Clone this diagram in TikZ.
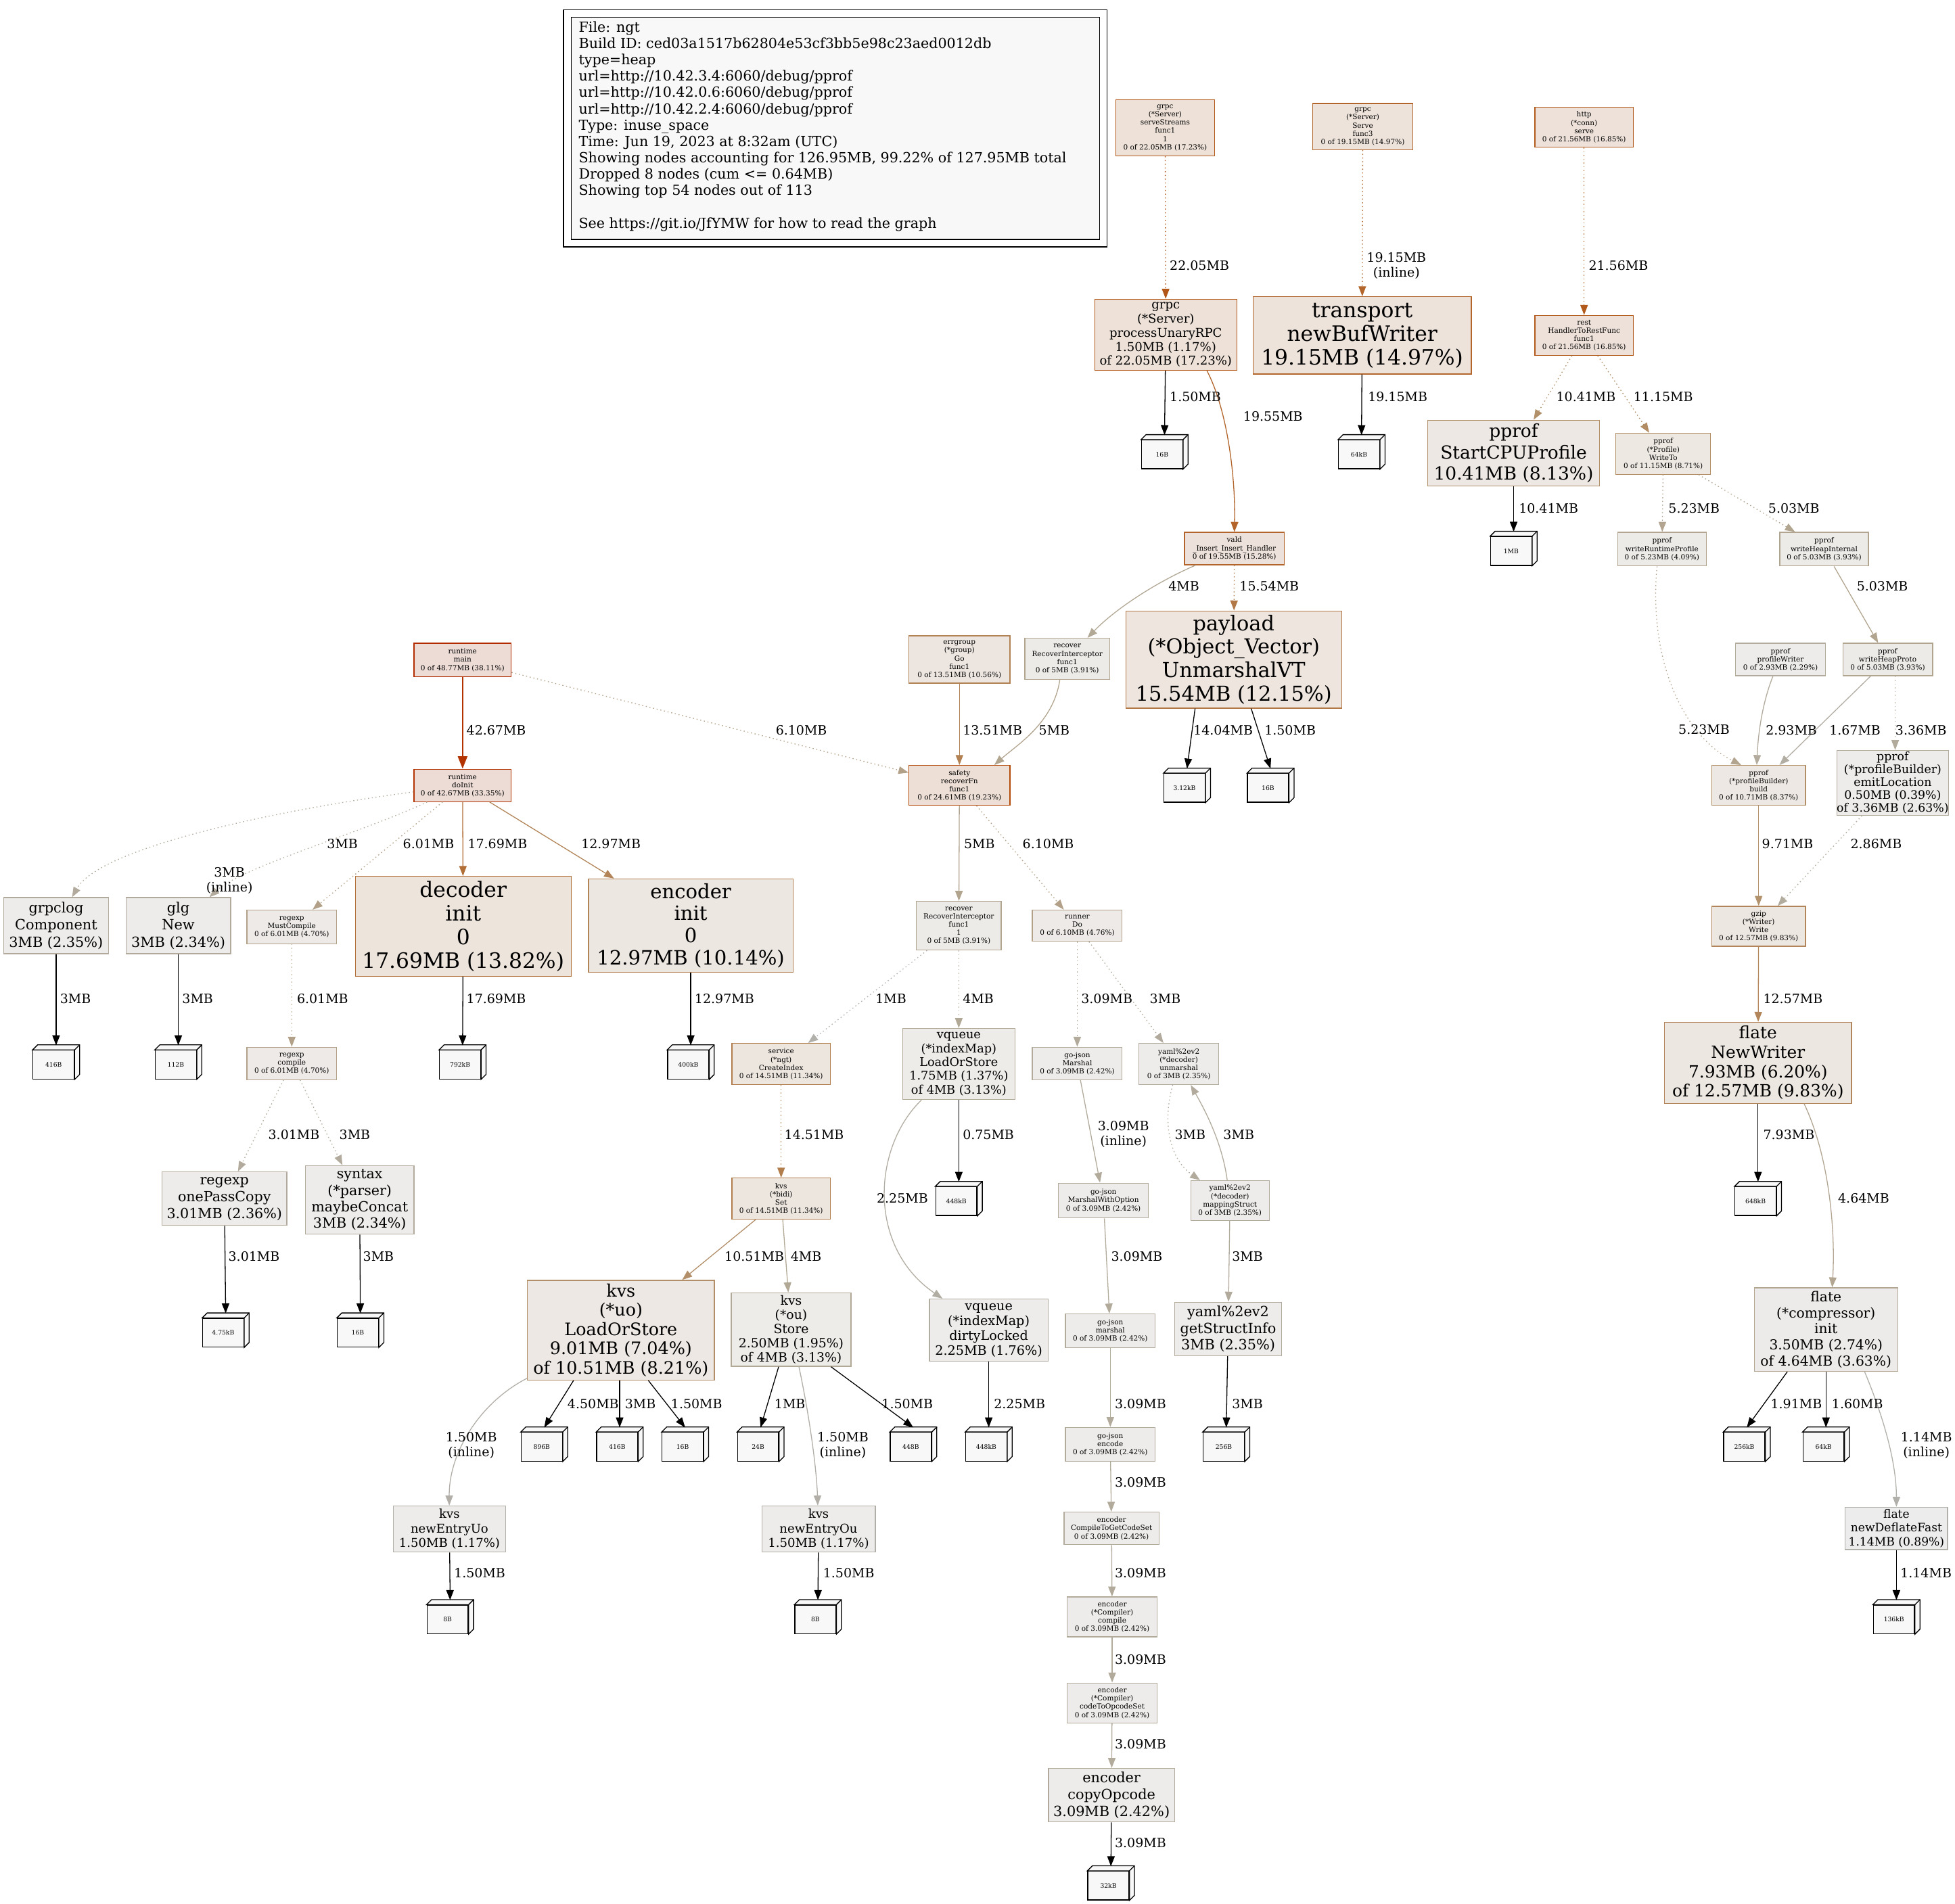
\documentclass[tikz,border=0pt]{standalone}
\usepackage{fontspec}
\setmainfont{DejaVu Serif}
\usetikzlibrary{arrows.meta,calc}
% node colours
\definecolor{cMainF}{HTML}{EDDBD5}\definecolor{cMainB}{HTML}{B22C00}
\definecolor{cInitF}{HTML}{EDDCD5}\definecolor{cInitB}{HTML}{B23200}
\definecolor{cSafF}{HTML}{EDDFD6}\definecolor{cSafB}{HTML}{B24906}
\definecolor{cSSF}{HTML}{EDE1D8}\definecolor{cSSB}{HTML}{B25718}
\definecolor{cHttpF}{HTML}{EDE1D9}\definecolor{cHttpB}{HTML}{B25A1C}
\definecolor{cValdF}{HTML}{EDE2DB}\definecolor{cValdB}{HTML}{B2642A}
\definecolor{cTrF}{HTML}{EDE3DB}\definecolor{cTrB}{HTML}{B2662C}
\definecolor{cDecF}{HTML}{EDE4DC}\definecolor{cDecB}{HTML}{B26E37}
\definecolor{cPayF}{HTML}{EDE5DE}\definecolor{cPayB}{HTML}{B27846}
\definecolor{cSvcF}{HTML}{EDE6DF}\definecolor{cSvcB}{HTML}{B27D4D}
\definecolor{cErrF}{HTML}{EDE6E0}\definecolor{cErrB}{HTML}{B28254}
\definecolor{cEncF}{HTML}{EDE7E1}\definecolor{cEncB}{HTML}{B28458}
\definecolor{cGzF}{HTML}{EDE7E1}\definecolor{cGzB}{HTML}{B2865A}
\definecolor{cWtF}{HTML}{EDE8E2}\definecolor{cWtB}{HTML}{B28D64}
\definecolor{cBldF}{HTML}{EDE8E3}\definecolor{cBldB}{HTML}{B28F67}
\definecolor{cUoF}{HTML}{EDE8E3}\definecolor{cUoB}{HTML}{B28F69}
\definecolor{cCpuF}{HTML}{EDE8E3}\definecolor{cCpuB}{HTML}{B2906A}
\definecolor{cRxF}{HTML}{EDEAE7}\definecolor{cRxB}{HTML}{B2A188}
\definecolor{cWrpF}{HTML}{EDEBE8}\definecolor{cWrpB}{HTML}{B2A48E}
\definecolor{cWhF}{HTML}{EDEBE8}\definecolor{cWhB}{HTML}{B2A58F}
\definecolor{cCiF}{HTML}{EDEBE9}\definecolor{cCiB}{HTML}{B2A692}
\definecolor{cVqF}{HTML}{EDECE9}\definecolor{cVqB}{HTML}{B2A896}
\definecolor{cEmF}{HTML}{EDECEA}\definecolor{cEmB}{HTML}{B2AA9B}
\definecolor{cJsF}{HTML}{EDECEA}\definecolor{cJsB}{HTML}{B2AB9C}
\definecolor{cYmF}{HTML}{EDECEA}\definecolor{cYmB}{HTML}{B2AB9D}
\definecolor{cPwF}{HTML}{EDECEA}\definecolor{cPwB}{HTML}{B2AB9E}
\definecolor{cDlF}{HTML}{EDECEB}\definecolor{cDlB}{HTML}{B2ADA2}
\definecolor{cNeF}{HTML}{EDECEB}\definecolor{cNeB}{HTML}{B2AFA8}
\definecolor{cNdF}{HTML}{EDECEC}\definecolor{cNdB}{HTML}{B2B0AA}
\definecolor{legf}{HTML}{F8F8F8}
% edge colours
\definecolor{e42}{HTML}{B23200}\definecolor{e22}{HTML}{B25718}
\definecolor{e21}{HTML}{B25A1C}\definecolor{e19a}{HTML}{B2642A}
\definecolor{e19b}{HTML}{B2662C}\definecolor{e17}{HTML}{B26E37}
\definecolor{e15}{HTML}{B27846}\definecolor{e14}{HTML}{B27D4D}
\definecolor{e13}{HTML}{B28254}\definecolor{e12a}{HTML}{B28458}
\definecolor{e12b}{HTML}{B2865A}\definecolor{e11}{HTML}{B28D64}
\definecolor{e10a}{HTML}{B28F69}\definecolor{e10b}{HTML}{B2906A}
\definecolor{e9}{HTML}{B2936E}\definecolor{e6}{HTML}{B2A188}
\definecolor{e5a}{HTML}{B2A48E}\definecolor{e5b}{HTML}{B2A58F}
\definecolor{e4a}{HTML}{B2A692}\definecolor{e4}{HTML}{B2A896}
\definecolor{e3a}{HTML}{B2AA9B}\definecolor{e3b}{HTML}{B2AB9C}
\definecolor{e3c}{HTML}{B2AB9D}\definecolor{e2a}{HTML}{B2AB9E}
\definecolor{e2b}{HTML}{B2AC9E}\definecolor{e2c}{HTML}{B2ADA2}
\definecolor{e1a}{HTML}{B2AEA4}\definecolor{e1b}{HTML}{B2AFA8}
\definecolor{e1c}{HTML}{B2B0AA}\definecolor{e1d}{HTML}{B2B0AB}
\newcommand\fA{\fontsize{5.7pt}{6.6pt}\selectfont}
\newcommand\fLb{\fontsize{10.3pt}{11.8pt}\selectfont}
\newcommand\fLeaf{\fontsize{5pt}{6pt}\selectfont}
\newcommand\fT{\fontsize{11.2pt}{13.1pt}\selectfont}
\newcommand\gn[8]{\node[nd={#6}{#7}, font=#8, minimum width=#4pt, minimum height=#5pt] (#1) at (#2,#3)}
\newcommand\leaf[4]{%
 \node[leafbox] (#1) at ({#2-2},{#3+2}) {#4};
 \coordinate (#1t) at (#2,{#3-13.5});
 \filldraw[leafline] (#1.north west) -- ++(4,-4) -- ($(#1.north east)+(4,-4)$) -- ($(#1.south east)+(4,-4)$) -- (#1.south east) -- (#1.north east) -- cycle;
 \draw[leafline] (#1.north east) -- ++(4,-4);}
\begin{document}
\begin{tikzpicture}[x=1pt,y=-1pt,
 nd/.style 2 args={draw=#2, fill=#1, rectangle, inner sep=0pt, align=center, line width=0.7pt},
 leafbox/.style={draw=black, fill=legf, rectangle, inner sep=0pt, minimum width=33pt, minimum height=23pt, font=\fLeaf, line width=0.7pt},
 leafline/.style={draw=black, fill=legf, line width=0.7pt},
 ar/.style={draw=#1, line width=0.7pt, -{Triangle[length=8pt,width=6pt]}},
 dt/.style={dash pattern=on 0.8pt off 2.2pt},
 lk/.style={draw=black, line width=0.7pt, -{Triangle[length=8pt,width=6pt]}},
 lab/.style={font=\fLb, anchor=west, inner sep=0pt},
 labc/.style={font=\fLb, align=center, inner sep=0pt}]
\useasboundingbox (0,0) rectangle (1568,1527);
\fill[white] (0,0) rectangle (1568,1527);

% legend
\node[draw=black, line width=0.7pt, inner sep=0pt, minimum width=436pt, minimum height=190pt] (lgo) at (670,103) {};
\node[draw=black, fill=legf, line width=0.7pt, inner sep=0pt, minimum width=424pt, minimum height=178pt] (lgi) at (670,103) {};
\node[anchor=north west, align=left, font=\fT, inner sep=0pt] (lgt) at (464,17) {File: ngt\\Build ID: ced03a1517b62804e53cf3bb5e98c23aed0012db\\type=heap\\url=http://10.42.3.4:6060/debug/pprof\\url=http://10.42.0.6:6060/debug/pprof\\url=http://10.42.2.4:6060/debug/pprof\\Type: inuse\_space\\Time: Jun 19, 2023 at 8:32am (UTC)\\Showing nodes accounting for 126.95MB, 99.22\% of 127.95MB total\\Dropped 8 nodes (cum <= 0.64MB)\\Showing top 54 nodes out of 113\\[13.1pt]See https://git.io/JfYMW for how to read the graph};

% nodes
\gn{ss}{934.5}{102.5}{79}{45}{cSSF}{cSSB}{\fA}{grpc\\(*Server)\\serveStreams\\func1\\1\\0 of 22.05MB (17.23\%)};
\gn{sv3}{1093}{101.5}{80}{37}{cTrF}{cTrB}{\fA}{grpc\\(*Server)\\Serve\\func3\\0 of 19.15MB (14.97\%)};
\gn{http}{1270.5}{102}{79}{32}{cHttpF}{cHttpB}{\fA}{http\\(*conn)\\serve\\0 of 21.56MB (16.85\%)};
\gn{rpc}{935}{268.5}{114}{57}{cSSF}{cSSB}{\fontsize{9.8pt}{11.3pt}\selectfont}{grpc\\(*Server)\\processUnaryRPC\\1.50MB (1.17\%)\\of 22.05MB (17.23\%)};
\gn{tr}{1092.5}{269}{175}{62}{cTrF}{cTrB}{\fontsize{17pt}{19pt}\selectfont}{transport\\newBufWriter\\19.15MB (14.97\%)};
\gn{rest}{1270.5}{269}{79}{32}{cHttpF}{cHttpB}{\fA}{rest\\HandlerToRestFunc\\func1\\0 of 21.56MB (16.85\%)};
\gn{cpu}{1214}{363.5}{138}{53}{cCpuF}{cCpuB}{\fontsize{14.4pt}{17pt}\selectfont}{pprof\\StartCPUProfile\\10.41MB (8.13\%)};
\gn{wto}{1334}{364}{76}{33}{cWtF}{cWtB}{\fA}{pprof\\(*Profile)\\WriteTo\\0 of 11.15MB (8.71\%)};
\gn{vald}{990}{440}{80}{26}{cValdF}{cValdB}{\fA}{vald\\\_Insert\_Insert\_Handler\\0 of 19.55MB (15.28\%)};
\gn{wrp}{1333}{440.5}{71}{27}{cWrpF}{cWrpB}{\fA}{pprof\\writeRuntimeProfile\\0 of 5.23MB (4.09\%)};
\gn{whi}{1463}{440.5}{71}{27}{cWhF}{cWhB}{\fA}{pprof\\writeHeapInternal\\0 of 5.03MB (3.93\%)};
\gn{main}{371}{529.5}{78}{27}{cMainF}{cMainB}{\fA}{runtime\\main\\0 of 48.77MB (38.11\%)};
\gn{errg}{769.5}{529}{81}{38}{cErrF}{cErrB}{\fA}{errgroup\\(*group)\\Go\\func1\\0 of 13.51MB (10.56\%)};
\gn{rec1}{856}{528.5}{68}{33}{cWhF}{cWhB}{\fA}{recover\\RecoverInterceptor\\func1\\0 of 5MB (3.91\%)};
\gn{pay}{989.5}{529}{173}{78}{cPayF}{cPayB}{\fontsize{16.5pt}{18.8pt}\selectfont}{payload\\(*Object\_Vector)\\UnmarshalVT\\15.54MB (12.15\%)};
\gn{pw}{1428}{529}{72}{26}{cPwF}{cPwB}{\fA}{pprof\\profileWriter\\0 of 2.93MB (2.29\%)};
\gn{whp}{1514}{529}{72}{26}{cWhF}{cWhB}{\fA}{pprof\\writeHeapProto\\0 of 5.03MB (3.93\%)};
\gn{doinit}{371}{630}{78}{26}{cInitF}{cInitB}{\fA}{runtime\\doInit\\0 of 42.67MB (33.35\%)};
\gn{saf}{769.5}{630}{81}{32}{cSafF}{cSafB}{\fA}{safety\\recoverFn\\func1\\0 of 24.61MB (19.23\%)};
\gn{bld}{1410.5}{630}{75}{32}{cBldF}{cBldB}{\fA}{pprof\\(*profileBuilder)\\build\\0 of 10.71MB (8.37\%)};
\gn{emit}{1518}{628}{88}{52}{cEmF}{cEmB}{\fontsize{9.4pt}{10.3pt}\selectfont}{pprof\\(*profileBuilder)\\emitLocation\\0.50MB (0.39\%)\\of 3.36MB (2.63\%)};
\gn{grpclog}{45}{742.5}{84}{45}{cYmF}{cYmB}{\fontsize{11.3pt}{14pt}\selectfont}{grpclog\\Component\\3MB (2.35\%)};
\gn{glg}{143}{742.5}{84}{45}{cYmF}{cYmB}{\fontsize{11.3pt}{14pt}\selectfont}{glg\\New\\3MB (2.34\%)};
\gn{mc}{234}{743.5}{72}{27}{cRxF}{cRxB}{\fA}{regexp\\MustCompile\\0 of 6.01MB (4.70\%)};
\gn{dec}{371.5}{743}{173}{80}{cDecF}{cDecB}{\fontsize{17pt}{19pt}\selectfont}{decoder\\init\\0\\17.69MB (13.82\%)};
\gn{enc}{554}{742.5}{164}{75}{cEncF}{cEncB}{\fontsize{15.8pt}{17.8pt}\selectfont}{encoder\\init\\0\\12.97MB (10.14\%)};
\gn{rec2}{769}{742.5}{68}{39}{cWhF}{cWhB}{\fA}{recover\\RecoverInterceptor\\func1\\1\\0 of 5MB (3.91\%)};
\gn{run}{864}{742.5}{72}{25}{cRxF}{cRxB}{\fA}{runner\\Do\\0 of 6.10MB (4.76\%)};
\gn{gz}{1410.5}{743}{75}{32}{cGzF}{cGzB}{\fA}{gzip\\(*Writer)\\Write\\0 of 12.57MB (9.83\%)};
\gn{rc}{234}{853}{72}{26}{cRxF}{cRxB}{\fA}{regexp\\compile\\0 of 6.01MB (4.70\%)};
\gn{ci}{626.5}{853.5}{79}{33}{cSvcF}{cSvcB}{\fA}{service\\(*ngt)\\CreateIndex\\0 of 14.51MB (11.34\%)};
\gn{vql}{769}{853.5}{90}{57}{cVqF}{cVqB}{\fontsize{9.6pt}{11pt}\selectfont}{vqueue\\(*indexMap)\\LoadOrStore\\1.75MB (1.37\%)\\of 4MB (3.13\%)};
\gn{gjm}{864}{853}{72}{26}{cJsF}{cJsB}{\fA}{go-json\\Marshal\\0 of 3.09MB (2.42\%)};
\gn{yu}{945.5}{853.5}{64}{33}{cYmF}{cYmB}{\fA}{yaml\%2ev2\\(*decoder)\\unmarshal\\0 of 3MB (2.35\%)};
\gn{fnw}{1410}{852.5}{150}{65}{cGzF}{cGzB}{\fontsize{13.5pt}{15.5pt}\selectfont}{flate\\NewWriter\\7.93MB (6.20\%)\\of 12.57MB (9.83\%)};
\gn{opc}{180}{961.5}{100}{43}{cYmF}{cYmB}{\fontsize{11.2pt}{13.6pt}\selectfont}{regexp\\onePassCopy\\3.01MB (2.36\%)};
\gn{syn}{288.5}{962.5}{87}{55}{cYmF}{cYmB}{\fontsize{11.2pt}{13.2pt}\selectfont}{syntax\\(*parser)\\maybeConcat\\3MB (2.34\%)};
\gn{set}{626.5}{961.5}{79}{33}{cSvcF}{cSvcB}{\fA}{kvs\\(*bidi)\\Set\\0 of 14.51MB (11.34\%)};
\gn{mwo}{885}{963}{72}{28}{cJsF}{cJsB}{\fA}{go-json\\MarshalWithOption\\0 of 3.09MB (2.42\%)};
\gn{ms}{986.5}{963}{63}{32}{cYmF}{cYmB}{\fA}{yaml\%2ev2\\(*decoder)\\mappingStruct\\0 of 3MB (2.35\%)};
\gn{uo}{498}{1067}{150}{80}{cUoF}{cUoB}{\fontsize{13.8pt}{15.5pt}\selectfont}{kvs\\(*uo)\\LoadOrStore\\9.01MB (7.04\%)\\of 10.51MB (8.21\%)};
\gn{ou}{634.5}{1066.5}{96}{59}{cVqF}{cVqB}{\fontsize{10.2pt}{11.5pt}\selectfont}{kvs\\(*ou)\\Store\\2.50MB (1.95\%)\\of 4MB (3.13\%)};
\gn{vqd}{793}{1067}{95}{50}{cDlF}{cDlB}{\fontsize{10.4pt}{12pt}\selectfont}{vqueue\\(*indexMap)\\dirtyLocked\\2.25MB (1.76\%)};
\gn{gjs}{890.5}{1067.5}{72}{27}{cJsF}{cJsB}{\fA}{go-json\\marshal\\0 of 3.09MB (2.42\%)};
\gn{gsi}{985}{1066}{86}{43}{cYmF}{cYmB}{\fontsize{11.3pt}{13.5pt}\selectfont}{yaml\%2ev2\\getStructInfo\\3MB (2.35\%)};
\gn{cmp}{1464.5}{1066.5}{115}{67}{cCiF}{cCiB}{\fontsize{11pt}{12.8pt}\selectfont}{flate\\(*compressor)\\init\\3.50MB (2.74\%)\\of 4.64MB (3.63\%)};
\gn{genc}{890.5}{1158.5}{72}{27}{cJsF}{cJsB}{\fA}{go-json\\encode\\0 of 3.09MB (2.42\%)};
\gn{neu}{360.5}{1226.5}{90}{37}{cNeF}{cNeB}{\fontsize{9.8pt}{11.8pt}\selectfont}{kvs\\newEntryUo\\1.50MB (1.17\%)};
\gn{neo}{656.5}{1226.5}{91}{37}{cNeF}{cNeB}{\fontsize{9.8pt}{11.8pt}\selectfont}{kvs\\newEntryOu\\1.50MB (1.17\%)};
\gn{ctg}{891.5}{1226}{76}{26}{cJsF}{cJsB}{\fA}{encoder\\CompileToGetCodeSet\\0 of 3.09MB (2.42\%)};
\gn{ndf}{1521}{1226}{82}{34}{cNdF}{cNdB}{\fontsize{9.3pt}{11pt}\selectfont}{flate\\newDeflateFast\\1.14MB (0.89\%)};
\gn{cpl}{892}{1297}{72}{32}{cJsF}{cJsB}{\fA}{encoder\\(*Compiler)\\compile\\0 of 3.09MB (2.42\%)};
\gn{cto}{892}{1366}{72}{32}{cJsF}{cJsB}{\fA}{encoder\\(*Compiler)\\codeToOpcodeSet\\0 of 3.09MB (2.42\%)};
\gn{cop}{891.5}{1440}{101}{43}{cJsF}{cJsB}{\fontsize{11.3pt}{13.6pt}\selectfont}{encoder\\copyOpcode\\3.09MB (2.42\%)};

% leaves
\leaf{la}{934}{362.5}{16B}
\leaf{lb}{1092}{362.5}{64kB}
\leaf{lc}{1214}{440}{1MB}
\leaf{ld}{952}{630}{3.12kB}
\leaf{le}{1019}{630}{16B}
\leaf{lf}{45}{852}{416B}
\leaf{lg}{143}{852}{112B}
\leaf{lh}{371}{852}{792kB}
\leaf{li}{554}{852}{400kB}
\leaf{lj}{769}{961.5}{448kB}
\leaf{lk}{1410}{961.5}{648kB}
\leaf{ll}{181}{1067}{4.75kB}
\leaf{lm}{289}{1067}{16B}
\leaf{ln}{436.5}{1158.5}{896B}
\leaf{lo}{497}{1158.5}{416B}
\leaf{lp}{549.5}{1158.5}{16B}
\leaf{lq}{610}{1158.5}{24B}
\leaf{lr}{732.5}{1158.5}{448B}
\leaf{ls}{793}{1158.5}{448kB}
\leaf{lt}{983.5}{1158.5}{256B}
\leaf{lu}{1401}{1158.5}{256kB}
\leaf{lv}{1464.5}{1158.5}{64kB}
\leaf{lw}{361}{1297}{8B}
\leaf{lx}{656}{1297}{8B}
\leaf{ly}{1521}{1297}{136kB}
\leaf{lz}{891}{1510.5}{32kB}

% edges
\draw[ar=e22,dt] (ss) -- (rpc);
\draw[ar=e19b,dt] (sv3) -- (tr);
\draw[ar=e21,dt] (http) -- (rest);
\draw[lk] (rpc) -- (lat);
\draw[ar=e19a] ($(rpc.south)+(33,0)$) .. controls (985,330) and (991,385) .. (vald.north);
\draw[lk] (tr) -- (lbt);
\draw[ar=e10b,dt] (rest) -- (cpu);
\draw[ar=e11,dt] (rest) -- (wto);
\draw[lk] (cpu) -- (lct);
\draw[ar=e5a,dt] (wto) -- (wrp);
\draw[ar=e5b,dt] (wto) -- (whi);
\draw[ar=e4] (vald) .. controls (925,468) and (893,490) .. (rec1);
\draw[ar=e15,dt] (vald) -- (pay);
\draw[ar=e5b] (whi) -- (whp);
\draw[ar=e5a,dt] ($(wrp.south)+(-4,0)$) .. controls (1322,530) and (1350,590) .. ($(bld.north)+(-14,0)$);
\draw[draw=e42, line width=1.4pt, -{Triangle[length=10pt,width=7.5pt]}] (main) -- (doinit);
\draw[ar=e6,dt] (main) -- (saf);
\draw[ar=e13] (errg) -- (saf);
\draw[ar=e5b] ($(rec1.south)+(-6,0)$) .. controls (845,580) and (815,598) .. ($(saf.north)+(28,0)$);
\draw[lk] ($(pay.south)+(-31,0)$) -- (ldt);
\draw[lk] ($(pay.south)+(14,0)$) -- (let);
\draw[ar=e2a] ($(pw.south)+(-6,0)$) .. controls (1413,565) and (1410,590) .. ($(bld.north)+(-1.5,0)$);
\draw[ar=e1a] (whp) -- (bld);
\draw[ar=e3a,dt] ($(whp.south)+(6,0)$) -- ($(emit.north)+(2,0)$);
\draw[ar=e3c,dt] (doinit) .. controls (220,650) and (80,680) .. (grpclog);
\draw[ar=e3c,dt] (doinit) .. controls (290,668) and (195,695) .. (glg);
\draw[ar=e6,dt] (doinit) -- (mc);
\draw[ar=e17] (doinit) -- (dec);
\draw[ar=e12a] (doinit) -- (enc);
\draw[ar=e5b] (saf) -- (rec2);
\draw[ar=e6,dt] (saf) -- (run);
\draw[ar=e9] (bld) -- (gz);
\draw[ar=e2b,dt] (emit) -- (gz);
\draw[lk] (grpclog) -- (lft);
\draw[lk] (glg) -- (lgt);
\draw[ar=e6,dt] (mc) -- (rc);
\draw[lk] (dec) -- (lht);
\draw[lk] (enc) -- (lit);
\draw[ar=e1d,dt] (rec2) -- (ci);
\draw[ar=e4,dt] (rec2) -- (vql);
\draw[ar=e3b,dt] (run) -- (gjm);
\draw[ar=e3c,dt] (run) -- (yu);
\draw[ar=e12b] (gz) -- (fnw);
\draw[ar=e3c,dt] (rc) -- (opc);
\draw[ar=e3c,dt] (rc) -- (syn);
\draw[ar=e14,dt] (ci) -- (set);
\draw[lk] (vql) -- (ljt);
\draw[ar=e3b] (gjm) -- (mwo);
\draw[ar=e3c,dt] (yu) .. controls (932,900) and (938,930) .. (ms);
\draw[ar=e3c] (ms) .. controls (980,915) and (965,888) .. (yu);
\draw[lk] (fnw) -- (lkt);
\draw[ar=e2c] (vql) .. controls (700,920) and (695,1000) .. (vqd);
\draw[ar=e4a] ($(fnw.south)+(37,0)$) .. controls (1468,930) and (1472,990) .. ($(cmp.north)+(5,0)$);
\draw[lk] (opc) -- (llt);
\draw[lk] (syn) -- (lmt);
\draw[ar=e10a] (set) -- (uo);
\draw[ar=e4] (set) -- (ou);
\draw[ar=e3b] (mwo) -- (gjs);
\draw[ar=e3c] (ms) -- (gsi);
\draw[lk] ($(uo.south)+(-38,0)$) -- (lnt);
\draw[lk] ($(uo.south)+(-1,0)$) -- (lot);
\draw[lk] ($(uo.south)+(22,0)$) -- (lpt);
\draw[ar=e1b] (uo) .. controls (385,1125) and (360,1165) .. (neu);
\draw[lk] ($(ou.south)+(-10,0)$) -- (lqt);
\draw[lk] ($(ou.south)+(32,0)$) -- (lrt);
\draw[ar=e1b] (ou) .. controls (650,1140) and (655,1180) .. (neo);
\draw[lk] (vqd) -- (lst);
\draw[ar=e3b] (gjs) -- (genc);
\draw[lk] (gsi) -- (ltt);
\draw[lk] ($(cmp.south)+(-31,0)$) -- (lut);
\draw[lk] (cmp) -- (lvt);
\draw[ar=e1c] ($(cmp.south)+(31,0)$) .. controls (1512,1140) and (1521,1175) .. (ndf);
\draw[ar=e3b] (genc) -- (ctg);
\draw[lk] (neu) -- (lwt);
\draw[lk] (neo) -- (lxt);
\draw[lk] (ndf) -- (lyt);
\draw[ar=e3b] (ctg) -- (cpl);
\draw[ar=e3b] (cpl) -- (cto);
\draw[ar=e3b] (cto) -- (cop);
\draw[lk] (cop) -- (lzt);

% edge labels
\node[lab] (t1) at (938,213) {22.05MB};
\node[labc] (t2) at (1120,213) {19.15MB\\(inline)};
\node[lab] (t3) at (1274,213) {21.56MB};
\node[lab] (t4) at (938,318) {1.50MB};
\node[lab] (t5) at (997,334) {19.55MB};
\node[lab] (t6) at (1097,318) {19.15MB};
\node[lab] (t7) at (1248,318) {10.41MB};
\node[lab] (t8) at (1310,318) {11.15MB};
\node[lab] (t9) at (1218,408) {10.41MB};
\node[lab] (t10) at (1338,408) {5.23MB};
\node[lab] (t11) at (1418,408) {5.03MB};
\node[lab] (t12) at (937,470) {4MB};
\node[lab] (t13) at (994,470) {15.54MB};
\node[lab] (t14) at (1489,470) {5.03MB};
\node[lab] (t15) at (1346,585) {5.23MB};
\node[lab] (t16) at (374,586) {42.67MB};
\node[lab] (t17) at (622,586) {6.10MB};
\node[lab] (t18) at (772,586) {13.51MB};
\node[lab] (t19) at (833,586) {5MB};
\node[lab] (t20) at (957,586) {14.04MB};
\node[lab] (t21) at (1014,586) {1.50MB};
\node[lab] (t22) at (1416,586) {2.93MB};
\node[lab] (t23) at (1467,586) {1.67MB};
\node[lab] (t24) at (1520,586) {3.36MB};
\node[labc] (t25) at (184,706.5) {3MB\\(inline)};
\node[lab] (t26) at (262,677) {3MB};
\node[lab] (t27) at (323,677) {6.01MB};
\node[lab] (t28) at (375,677) {17.69MB};
\node[lab] (t29) at (466,677) {12.97MB};
\node[lab] (t30) at (773,677) {5MB};
\node[lab] (t31) at (820,677) {6.10MB};
\node[lab] (t32) at (1413,677) {9.71MB};
\node[lab] (t33) at (1484,677) {2.86MB};
\node[lab] (t34) at (48,801) {3MB};
\node[lab] (t35) at (146,801) {3MB};
\node[lab] (t36) at (238,801) {6.01MB};
\node[lab] (t37) at (374,801) {17.69MB};
\node[lab] (t38) at (557,801) {12.97MB};
\node[lab] (t39) at (702,801) {1MB};
\node[lab] (t40) at (772,801) {4MB};
\node[lab] (t41) at (867,801) {3.09MB};
\node[lab] (t42) at (922,801) {3MB};
\node[lab] (t43) at (1414,801) {12.57MB};
\node[lab] (t44) at (629,910) {14.51MB};
\node[lab] (t45) at (772,910) {0.75MB};
\node[labc] (t46) at (901,910) {3.09MB\\(inline)};
\node[lab] (t47) at (942,910) {3MB};
\node[lab] (t48) at (981,910) {3MB};
\node[lab] (t49) at (1414,910) {7.93MB};
\node[lab] (t50) at (215,910) {3.01MB};
\node[lab] (t51) at (272,910) {3MB};
\node[lab] (t52) at (703,961) {2.25MB};
\node[lab] (t53) at (891,1008) {3.09MB};
\node[lab] (t54) at (988,1008) {3MB};
\node[lab] (t55) at (1474,961) {4.64MB};
\node[lab] (t56) at (183,1008) {3.01MB};
\node[lab] (t57) at (291,1008) {3MB};
\node[lab] (t58) at (581,1008) {10.51MB};
\node[lab] (t59) at (634,1008) {4MB};
\node[lab] (t60) at (455,1126) {4.50MB};
\node[lab] (t61) at (501,1126) {3MB};
\node[lab] (t62) at (538,1126) {1.50MB};
\node[labc] (t63) at (378,1159.5) {1.50MB\\(inline)};
\node[lab] (t64) at (621,1126) {1MB};
\node[labc] (t65) at (676,1159.5) {1.50MB\\(inline)};
\node[lab] (t66) at (707,1126) {1.50MB};
\node[lab] (t67) at (797,1126) {2.25MB};
\node[lab] (t68) at (894,1126) {3.09MB};
\node[lab] (t69) at (988,1126) {3MB};
\node[lab] (t70) at (1420,1126) {1.91MB};
\node[lab] (t71) at (1469,1126) {1.60MB};
\node[labc] (t72) at (1545,1159.5) {1.14MB\\(inline)};
\node[lab] (t73) at (364,1262) {1.50MB};
\node[lab] (t74) at (660,1262) {1.50MB};
\node[lab] (t75) at (1524,1262) {1.14MB};
\node[lab] (t76) at (894,1189) {3.09MB};
\node[lab] (t77) at (894,1262) {3.09MB};
\node[lab] (t78) at (894,1331) {3.09MB};
\node[lab] (t79) at (894,1399) {3.09MB};
\node[lab] (t80) at (894,1478) {3.09MB};
\end{tikzpicture}
\end{document}
